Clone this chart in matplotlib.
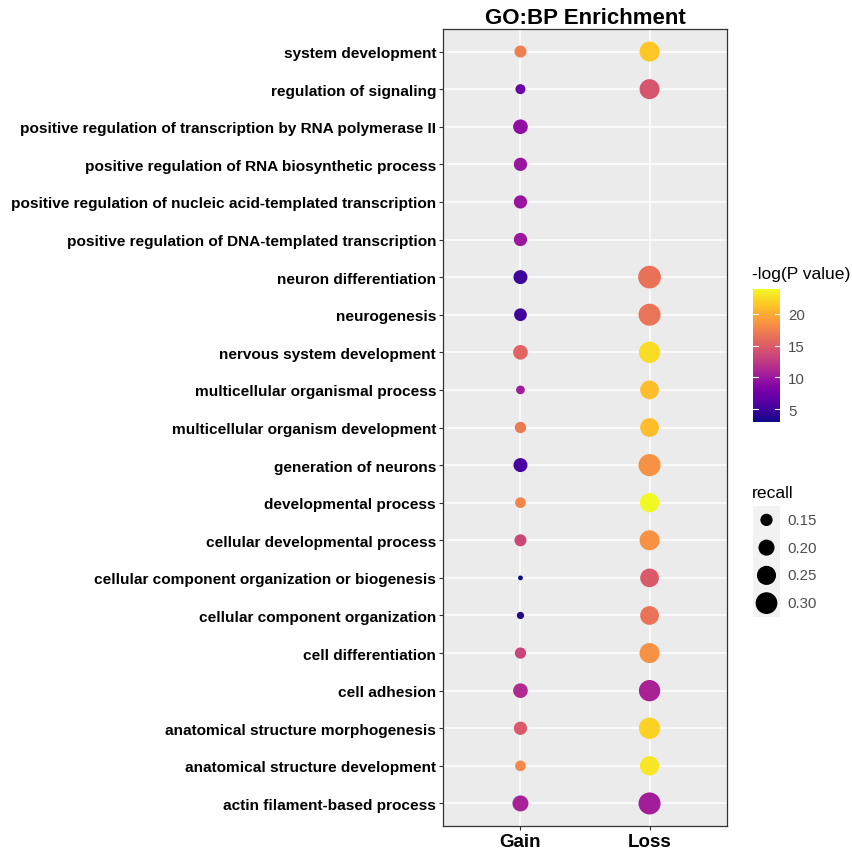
import numpy as np
import matplotlib
matplotlib.use("Agg")
import matplotlib.pyplot as plt
from matplotlib import colors

plt.rcParams['font.family'] = ['Liberation Sans', 'DejaVu Sans']

# GO biological-process terms, listed top to bottom
terms = [
    "system development",
    "regulation of signaling",
    "positive regulation of transcription by RNA polymerase II",
    "positive regulation of RNA biosynthetic process",
    "positive regulation of nucleic acid-templated transcription",
    "positive regulation of DNA-templated transcription",
    "neuron differentiation",
    "neurogenesis",
    "nervous system development",
    "multicellular organismal process",
    "multicellular organism development",
    "generation of neurons",
    "developmental process",
    "cellular developmental process",
    "cellular component organization or biogenesis",
    "cellular component organization",
    "cell differentiation",
    "cell adhesion",
    "anatomical structure morphogenesis",
    "anatomical structure development",
    "actin filament-based process",
]
groups = ["Gain", "Loss"]

# -log10(P) per term (None = term not enriched in that group)
gain_logp = [17.3, 7.2, 9.3, 9.8, 9.8, 10.0, 5.0, 5.0, 15.6, 10.4, 16.9,
             5.5, 17.7, 13.5, 3.0, 3.8, 13.3, 11.4, 14.8, 18.0, 10.6]
loss_logp = [21.5, 14.5, None, None, None, None, 16.4, 16.6, 22.5, 20.9, 20.9,
             18.5, 23.9, 18.5, 14.8, 16.5, 18.5, 10.8, 22.0, 23.0, 10.4]

# recall per term
gain_recall = [0.147, 0.126, 0.180, 0.162, 0.162, 0.162, 0.171, 0.155, 0.180, 0.115, 0.139,
               0.171, 0.133, 0.147, 0.090, 0.104, 0.139, 0.180, 0.162, 0.133, 0.199]
loss_recall = [0.266, 0.266, None, None, None, None, 0.320, 0.306, 0.292, 0.243, 0.243,
               0.306, 0.253, 0.266, 0.243, 0.243, 0.266, 0.292, 0.292, 0.253, 0.306]

cbar_ticks = [5, 10, 15, 20]
recall_breaks = [0.15, 0.20, 0.25, 0.30]

DPI = 100


def marker_area(r):
    """Marker area (pt^2) growing linearly with recall."""
    d_px = np.sqrt(np.maximum(151 + (np.asarray(r, dtype=float) - 0.15) * 2140, 4))
    return (d_px * 72.0 / DPI) ** 2


# long-format table
xs, ys, cs, rs = [], [], [], []
n = len(terms)
for gi, (lp, rc) in enumerate([(gain_logp, gain_recall), (loss_logp, loss_recall)]):
    for ti in range(n):
        if lp[ti] is None:
            continue
        xs.append(gi)
        ys.append(n - 1 - ti)
        cs.append(lp[ti])
        rs.append(rc[ti])

vmin, vmax = min(cs), max(cs)
norm = colors.Normalize(vmin=vmin, vmax=vmax)
cmap = plt.get_cmap("plasma")

fig = plt.figure(figsize=(853 / DPI, 853 / DPI), dpi=DPI)
ax = fig.add_axes([443 / 853, 1 - 827 / 853, (727 - 443) / 853, (827 - 30) / 853])
ax.set_facecolor("#EBEBEB")
ax.set_axisbelow(True)

sc = ax.scatter(xs, ys, s=marker_area(rs), c=cs, cmap=cmap, norm=norm,
                linewidths=0, zorder=3)

ax.set_xlim(-0.6, 1.6)
ax.set_ylim(-0.6, n - 1 + 0.6)
ax.set_xticks(range(len(groups)))
ax.set_xticklabels(groups, fontsize=13.5, fontweight="bold", color="black")
ax.set_yticks(range(n))
ax.set_yticklabels(terms[::-1], fontsize=11.1, fontweight="bold", color="black")
ax.grid(True, color="white", linewidth=1.1)
ax.tick_params(axis="both", length=3, width=0.8, color="#333333", pad=2)
for sp in ax.spines.values():
    sp.set_color("#333333")
    sp.set_linewidth(0.9)

ax.set_title("GO:BP Enrichment", fontsize=16, fontweight="bold", pad=4)

# colour bar
cax = fig.add_axes([753 / 853, 1 - 423 / 853, 27 / 853, (423 - 290) / 853])
cb = fig.colorbar(sc, cax=cax, ticks=cbar_ticks)
cb.outline.set_visible(False)
cax.tick_params(length=0, labelsize=10.8, labelcolor="#4D4D4D", pad=6)
for t in cbar_ticks:
    cax.plot([0, 0.2], [t, t], color="white", lw=0.8, transform=cax.get_yaxis_transform())
    cax.plot([0.8, 1.0], [t, t], color="white", lw=0.8, transform=cax.get_yaxis_transform())
fig.text(752 / 853, 1 - 274 / 853, "-log(P value)", fontsize=12.6, color="black",
         va="center", ha="left")

# size legend
lax = fig.add_axes([753 / 853, 1 - 618 / 853, 27 / 853, (618 - 507) / 853])
lax.set_facecolor("#F2F2F2")
lax.set_xlim(0, 1)
lax.set_ylim(len(recall_breaks) - 0.5, -0.5)
lax.scatter([0.5] * len(recall_breaks), range(len(recall_breaks)),
            s=marker_area(recall_breaks), color="black", linewidths=0)
for i, b in enumerate(recall_breaks):
    lax.text(1.0 + 7 / 27, i, f"{b:.2f}", transform=lax.get_yaxis_transform(),
             fontsize=10.8, color="#4D4D4D", va="center", ha="left")
lax.set_xticks([])
lax.set_yticks([])
for sp in lax.spines.values():
    sp.set_visible(False)
fig.text(752 / 853, 1 - 493 / 853, "recall", fontsize=12.6, color="black",
         va="center", ha="left")

fig.savefig("out.png", dpi=DPI, facecolor="white")
